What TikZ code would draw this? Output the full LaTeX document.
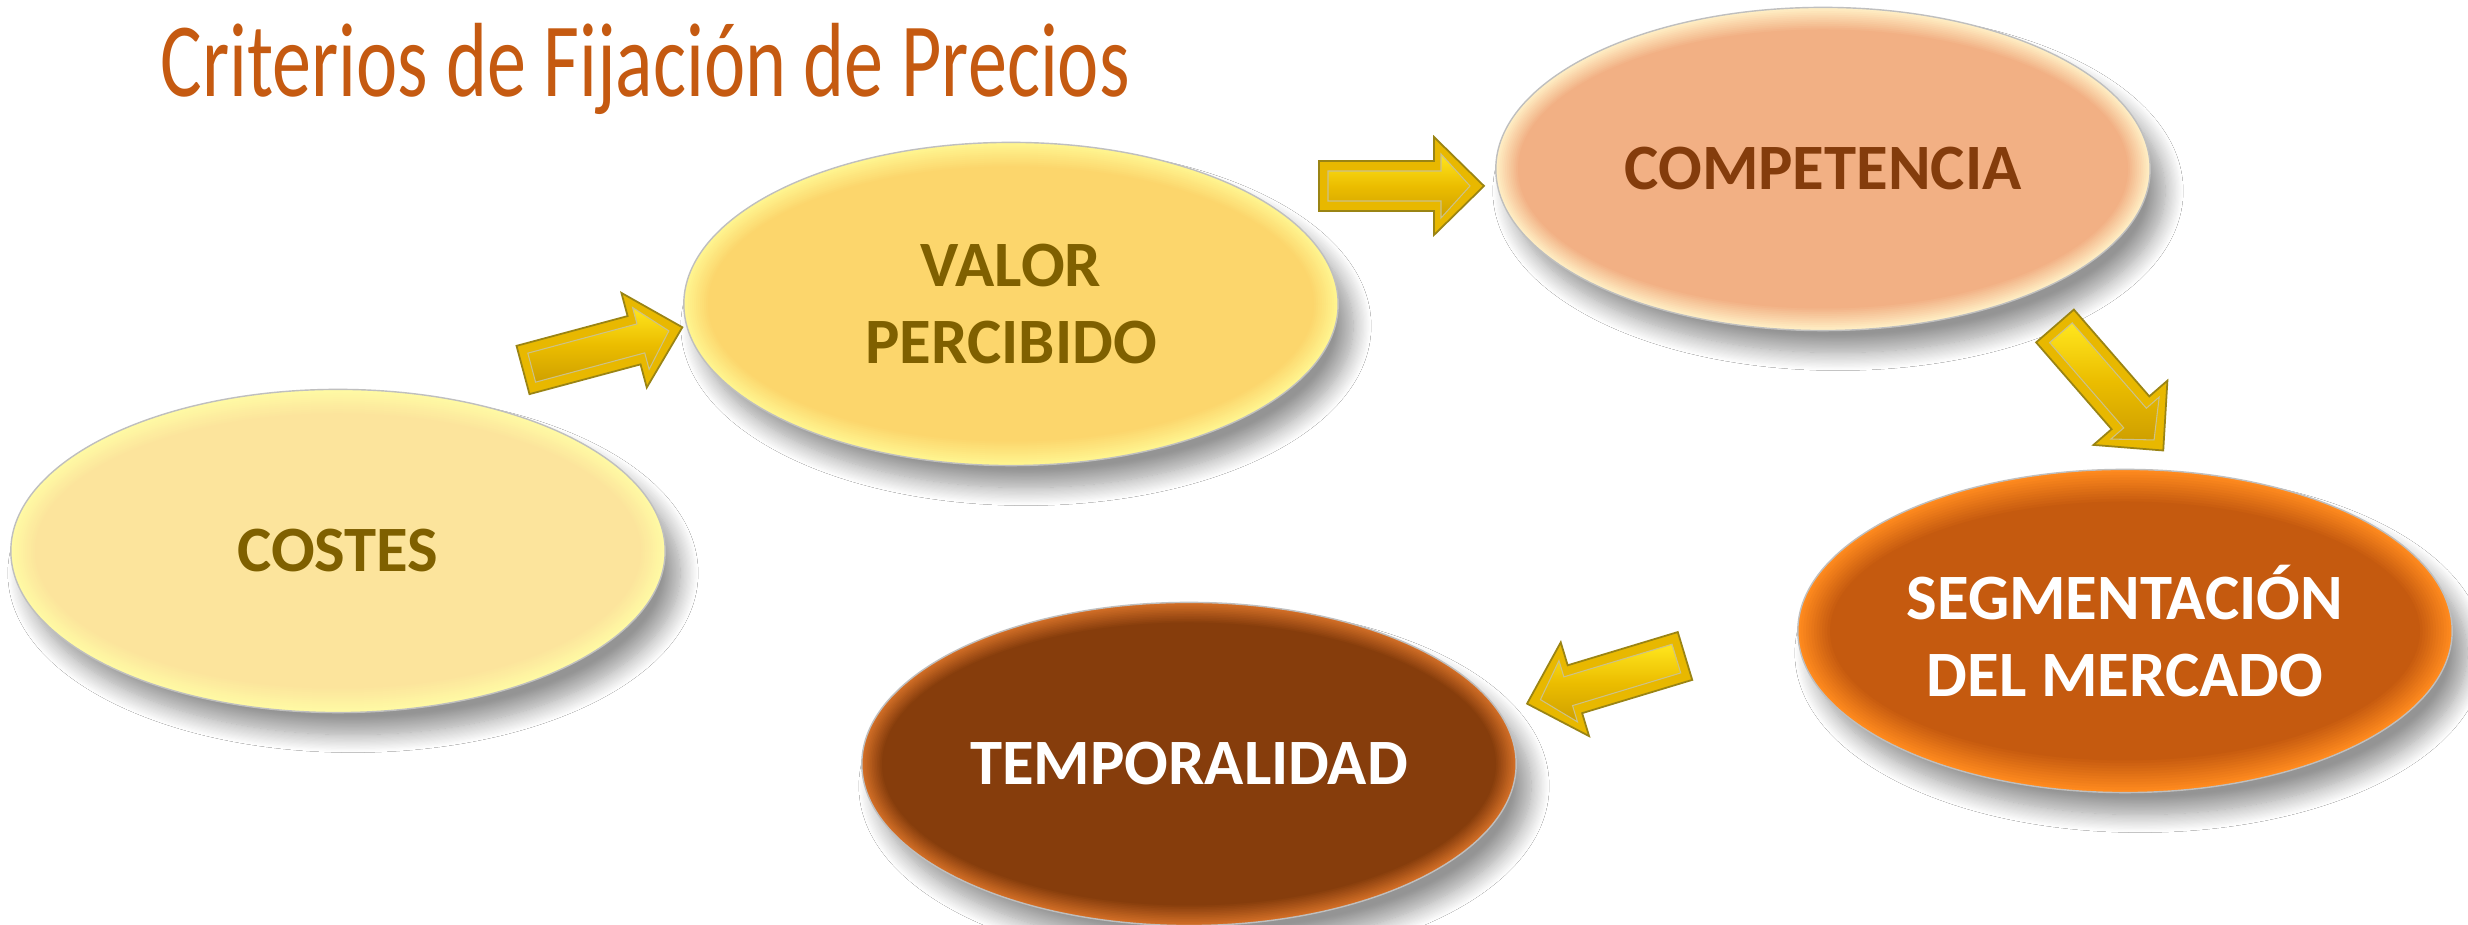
\documentclass[tikz,border=0pt]{standalone}
\usepackage{fontspec}
\setmainfont{Carlito}
\usetikzlibrary{shapes.geometric,shadows.blur}

\definecolor{titlec}{HTML}{C55A11}
\definecolor{olivetxt}{HTML}{7F6000}
\definecolor{browntxt}{HTML}{843C0C}
\definecolor{costesC}{HTML}{FCE49C}
\definecolor{costesE}{HTML}{FFFAA4}
\definecolor{valorC}{HTML}{FCD66C}
\definecolor{valorE}{HTML}{FFF590}
\definecolor{compC}{HTML}{F2B084}
\definecolor{compE}{HTML}{FFEEC4}
\definecolor{segC}{HTML}{C55A0F}
\definecolor{segE}{HTML}{FF8A1E}
\definecolor{tempC}{HTML}{863D0C}
\definecolor{tempE}{HTML}{D26E26}
\definecolor{arrowouter}{HTML}{E8B800}
\definecolor{arrowline}{HTML}{9A8414}
\definecolor{arrowlight}{HTML}{FFE61E}
\definecolor{arrowmid}{HTML}{EBBD00}
\definecolor{arrowdark}{HTML}{CFA000}

\tikzset{
  oval/.style={ellipse, minimum width=6.54cm, minimum height=3.23cm, inner sep=0pt,
    draw=gray!50, line width=0.4pt, align=center,
    font=\bfseries\fontsize{18.4}{22}\selectfont,
    blur shadow={shadow xshift=0.15cm, shadow yshift=-0.22cm, shadow blur radius=0.18cm, shadow blur steps=16, shadow opacity=42}},
  % glow={edge colour}{centre colour}{band width}
  glow/.style n args={3}{fill=#1,
    path picture={
      \foreach \k in {1,...,12}{
        \pgfmathsetmacro\dd{\k*#3/12}
        \pgfmathsetmacro\mm{\k*100/12}
        \fill[#2!\mm!#1] (path picture bounding box.center) ellipse ({327-\dd} and {161.5-\dd});
      }
    }},
  goldarrow/.pic={
    \filldraw[draw=arrowline, line width=0.5pt, fill=arrowouter]
      (0,-25) -- (115,-25) -- (115,-49) -- (165,0) -- (115,49) -- (115,25) -- (0,25) -- cycle;
    \shade[top color=arrowlight, bottom color=arrowdark, middle color=arrowmid, draw=arrowline!50, line width=0.3pt]
      (9,-15) -- (122,-15) -- (122,-32) -- (151,0) -- (122,32) -- (122,15) -- (9,15) -- cycle;
  }
}

\begin{document}
\begin{tikzpicture}[x=0.01cm,y=0.01cm]
\useasboundingbox (0,0) rectangle (2468,925);
\fill[white] (0,0) rectangle (2468,925);

\node[oval, glow={costesE}{costesC}{24}, text=olivetxt] (costes) at (338,374) {COSTES};
\node[oval, glow={valorE}{valorC}{24}, text=olivetxt] (valor) at (1011,621) {VALOR\\PERCIBIDO};
\node[oval, glow={compE}{compC}{22}, text=browntxt] (comp) at (1823,756) {COMPETENCIA};
\node[oval, glow={segE}{segC}{32}, text=white] (seg) at (2125,294) {SEGMENTACIÓN\\DEL MERCADO};
\node[oval, glow={tempE}{tempC}{20}, text=white] (temp) at (1189,161) {TEMPORALIDAD};

\pic[rotate=15] (a1) at (523,555) {goldarrow};
\pic (a2) at (1319,739) {goldarrow};
\pic[rotate=-49] (a3) at (2055,599) {goldarrow};
\pic[rotate=196.8] (a4) at (1685,269) {goldarrow};

\node[anchor=base west, inner sep=0pt, text=titlec, font=\fontsize{30}{34}\selectfont] (title) at (160,828)
  {\scalebox{0.74}[1]{Criterios de Fijación de Precios}};
\end{tikzpicture}
\end{document}
